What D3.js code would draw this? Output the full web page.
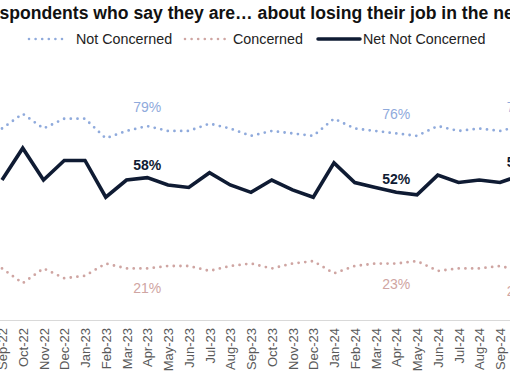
<!DOCTYPE html>
<html>
<head>
<meta charset="utf-8">
<script src="https://cdn.jsdelivr.net/npm/d3@7"></script>
<style>
  html, body { margin: 0; padding: 0; background: #fff; overflow: hidden; }
  svg { display: block; font-family: "Liberation Sans", Arial, sans-serif; }
</style>
</head>
<body>
<svg id="chart" width="510" height="382"></svg>
<script>
// ---- data ----
const months = ["Sep-22","Oct-22","Nov-22","Dec-22","Jan-23","Feb-23","Mar-23","Apr-23","May-23","Jun-23","Jul-23","Aug-23","Sep-23",
                "Oct-23","Nov-23","Dec-23","Jan-24","Feb-24","Mar-24","Apr-24","May-24","Jun-24","Jul-24","Aug-24","Sep-24","Oct-24"];
const notConcerned = [78,84,78,82,82,74,77,79,77,77,80,78,75,77,76,75,82,78,77,76,75,79,77,78,77,79];
const concerned    = [21,15,21,17,18,23,21,21,22,22,20,22,23,21,23,24,19,22,23,23,24,20,21,21,22,20];
const netNotConcerned = [57,70,57,65,65,50,57,58,55,54,60,55,52,57,53,50,64,56,54,52,51,59,56,57,56,59];
const labelMonths = ["Apr-23","Apr-24","Oct-24"];
const titleText = "Share of respondents who say they are\u2026 about losing their job in the next 12 months";
const titlePrefix = "Share of re";
const legendLabels = ["Not Concerned","Concerned","Net Not Concerned"];

// ---- styles ----
const C_NC = "#8FAADC", C_C = "#CFA5A2", C_NET = "#0F1B33";

const svg = d3.select("#chart");
const step = 20.75;
const x = d3.scalePoint().domain(months).range([2, 2 + step * (months.length - 1)]);
const y = d3.scaleLinear().domain([0, 100]).range([320, 74.5]);

// Title (cropped in the reference)
const TITLE_FS = 17.6;
const tmp = svg.append("text").attr("font-size", TITLE_FS).attr("font-weight", "bold").text(titlePrefix);
const prefW = tmp.node().getComputedTextLength();
tmp.remove();
svg.append("text")
  .attr("x", -prefW - 0.5).attr("y", 18.5)
  .attr("font-size", TITLE_FS).attr("font-weight", "bold").attr("fill", "#111")
  .text(titleText);

// Legend
const leg = [
  {label: legendLabels[0], color: C_NC, dotted: true, x0: 29, x1: 68, tx: 76},
  {label: legendLabels[1], color: C_C, dotted: true, x0: 185, x1: 225, tx: 233},
  {label: legendLabels[2], color: C_NET, dotted: false, x0: 318, x1: 360, tx: 363}
];
leg.forEach(l => {
  svg.append("line").attr("x1", l.x0).attr("x2", l.x1).attr("y1", 39).attr("y2", 39)
    .attr("stroke", l.color)
    .attr("stroke-width", l.dotted ? 2.6 : 3.5)
    .attr("stroke-linecap", "round")
    .attr("stroke-dasharray", l.dotted ? "0 6.6" : null);
  svg.append("text").attr("x", l.tx).attr("y", 44).attr("font-size", 14.3).attr("fill", "#222").text(l.label);
});

// X axis
svg.append("line").attr("x1", 0).attr("x2", 510).attr("y1", 320.5).attr("y2", 320.5)
  .attr("stroke", "#D9D9D9").attr("stroke-width", 1);
const axis = d3.axisBottom(x).tickSize(0).tickPadding(0);
const ag = svg.append("g").attr("transform", "translate(0,320)").call(axis);
ag.select(".domain").remove();
ag.selectAll("text")
  .attr("font-size", 13).attr("fill", "#595959")
  .attr("font-family", "'Liberation Sans', Arial, sans-serif")
  .attr("text-anchor", "end")
  .attr("transform", "rotate(-90)")
  .attr("x", -8).attr("y", 0).attr("dy", "0.35em");

// Lines
const line = d3.line().x((d, i) => x(months[i])).y(d => y(d));
svg.append("path").datum(notConcerned).attr("d", line).attr("fill", "none")
  .attr("stroke", C_NC).attr("stroke-width", 2.8).attr("stroke-linecap", "round").attr("stroke-dasharray", "0 6.7");
svg.append("path").datum(concerned).attr("d", line).attr("fill", "none")
  .attr("stroke", C_C).attr("stroke-width", 2.8).attr("stroke-linecap", "round").attr("stroke-dasharray", "0 6.7");
svg.append("path").datum(netNotConcerned).attr("d", line).attr("fill", "none")
  .attr("stroke", C_NET).attr("stroke-width", 3.6).attr("stroke-linejoin", "miter");

// Data labels
labelMonths.forEach(m => {
  const i = months.indexOf(m);
  svg.append("text").attr("x", x(m)).attr("y", y(notConcerned[i]) - 14)
    .attr("text-anchor", "middle").attr("font-size", 14).attr("fill", C_NC).text(notConcerned[i] + "%");
  svg.append("text").attr("x", x(m)).attr("y", y(netNotConcerned[i]) - 8)
    .attr("text-anchor", "middle").attr("font-size", 14).attr("font-weight", "bold").attr("fill", C_NET).text(netNotConcerned[i] + "%");
  svg.append("text").attr("x", x(m)).attr("y", y(concerned[i]) + 25)
    .attr("text-anchor", "middle").attr("font-size", 14).attr("fill", C_C).text(concerned[i] + "%");
});
</script>
</body>
</html>
